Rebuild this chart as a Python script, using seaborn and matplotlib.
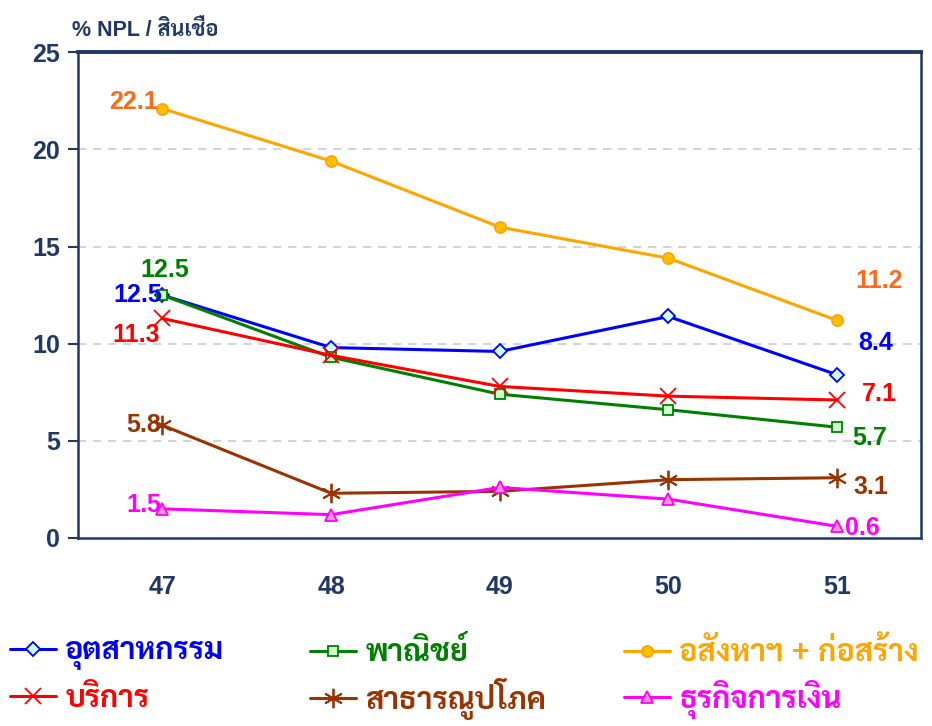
import matplotlib
matplotlib.use("Agg")
import numpy as np
import pandas as pd
import seaborn as sns
import matplotlib.pyplot as plt
from matplotlib.lines import Line2D

# ---------------------------------------------------------
# data (% NPL / loans by sector)
# ---------------------------------------------------------
years = ["47", "48", "49", "50", "51"]

industry = [12.5, 9.8, 9.6, 11.4, 8.4]
commerce = [12.5, 9.3, 7.4, 6.6, 5.7]
realestate = [22.1, 19.4, 16.0, 14.4, 11.2]
services = [11.3, 9.4, 7.8, 7.3, 7.1]
utilities = [5.8, 2.3, 2.4, 3.0, 3.1]
finance = [1.5, 1.2, 2.6, 2.0, 0.6]

names = ["อุตสาหกรรม", "พาณิชย์", "อสังหาฯ + ก่อสร้าง",
         "บริการ", "สาธารณูปโภค", "ธุรกิจการเงิน"]

sns.set_style("white")
plt.rcParams["font.family"] = ["Liberation Sans", "Sarabun", "DejaVu Sans"]
plt.rcParams["font.weight"] = "bold"

navy = "#1f3864"

# style per series: line colour, label colour, marker, marker face, size
styles = [
    ("#0000ff", "#0000ff", "D", "#ccffff", 7),
    ("#008000", "#008000", "s", "#ccffcc", 7),
    ("#ffa500", "#ff6a1a", "o", "#ffc000", 8),
    ("#ff0000", "#ff0000", "x", "none", 11),
    ("#993300", "#993300", (6, 2, 0), "none", 14),
    ("#ff00ff", "#ff00ff", "^", "#ff99cc", 9),
]
series = [industry, commerce, realestate, services, utilities, finance]

fig = plt.figure(figsize=(9.32, 7.26), dpi=100)
ax = fig.add_axes([0.0837, 0.259, 0.905, 0.669])

x = np.arange(len(years))
handles = []
for vals, name, (lc, tc, mk, mf, ms) in zip(series, names, styles):
    df = pd.DataFrame({"x": x, "y": vals})
    sns.lineplot(data=df, x="x", y="y", ax=ax, color=lc, lw=2.2,
                 marker=mk, markersize=ms, markerfacecolor=mf,
                 markeredgecolor=lc, markeredgewidth=1.3)
    handles.append(Line2D([], [], color=lc, lw=2.2, marker=mk, markersize=ms,
                          markerfacecolor=mf, markeredgecolor=lc, markeredgewidth=1.3))

# ---------------------------------------------------------
# data labels (first and last year)
# ---------------------------------------------------------
# (series index, point index, offset x pt, offset y pt, ha)
label_pos = [
    (2, 0, -3, 5, "right"), (2, 4, 13, 28, "left"),
    (1, 0, 2, 18, "center"), (0, 0, 0, 0, "right"),
    (3, 0, -2, -12, "right"), (4, 0, -1, 0, "right"), (5, 0, -1, 3, "right"),
    (0, 4, 15, 23, "left"), (3, 4, 18, 4, "left"),
    (1, 4, 11, -8, "left"), (4, 4, 12, -7, "left"), (5, 4, 6, -1, "left"),
]
for si, pi, dx, dy, ha in label_pos:
    v = series[si][pi]
    ax.annotate(f"{v:.1f}", (x[pi], v), xytext=(dx, dy), textcoords="offset points",
                ha=ha, va="center", fontsize=18, fontweight="bold", color=styles[si][1])

# ---------------------------------------------------------
# axes
# ---------------------------------------------------------
ax.set_xlim(-0.5, 4.5)
ax.set_ylim(0, 25)
ax.set_yticks([0, 5, 10, 15, 20, 25])
ax.set_xticks(x)
ax.set_xticklabels(years)
ax.set_xticks(np.arange(-0.5, 5, 1), minor=True)
ax.tick_params(axis="x", which="major", length=0, pad=27, labelsize=18, labelcolor=navy)
ax.tick_params(axis="x", which="minor", length=9, width=1.5, color=navy, direction="out")
ax.tick_params(axis="y", length=7, width=1.5, color=navy, direction="out",
               labelsize=18, labelcolor=navy, left=True, pad=6)
for lab in ax.get_xticklabels() + ax.get_yticklabels():
    lab.set_fontweight("bold")
ax.set_xlabel("")
ax.set_ylabel("")
for gy in [5, 10, 15, 20]:
    ax.axhline(gy, color="#cccccc", lw=1.2, ls=(0, (5, 4)), zorder=0)
for side in ["left", "bottom", "right"]:
    ax.spines[side].set_color(navy)
    ax.spines[side].set_linewidth(1.8)
ax.spines["top"].set_color(navy)
ax.spines["top"].set_linewidth(2.8)

fig.text(0.077, 0.958, "% NPL / สินเชื่อ", fontsize=15.5, fontweight="bold",
         color=navy, ha="left", va="center")

# ---------------------------------------------------------
# legend: one small legend per entry, laid out 3 x 2
# ---------------------------------------------------------
col_x = [0.011, 0.333, 0.670]
row_y = [0.100, 0.037]
for i in range(6):
    leg = fig.legend([handles[i]], [names[i]], loc="center left",
                     bbox_to_anchor=(col_x[i % 3], row_y[i // 3]),
                     frameon=False, fontsize=22, handlelength=1.5, handletextpad=0.3,
                     borderpad=0, borderaxespad=0)
    t = leg.get_texts()[0]
    t.set_color(styles[i][1] if i != 2 else "#ffa500")
    t.set_fontweight("bold")

fig.savefig("out.png", dpi=100)
